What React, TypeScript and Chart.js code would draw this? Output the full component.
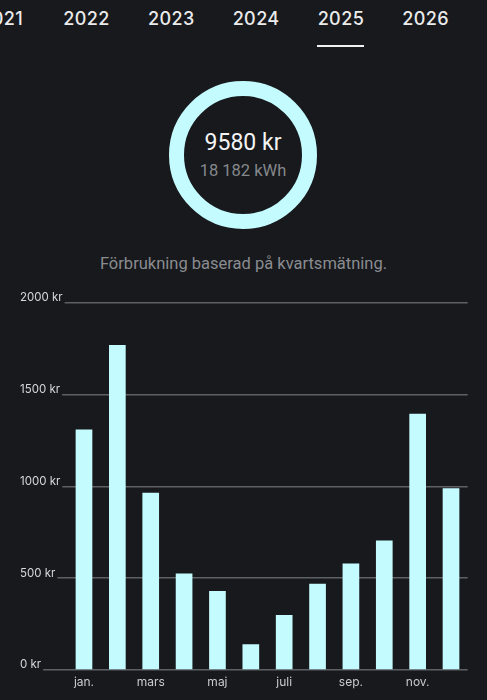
import React, { useEffect, useRef } from "react";
import { Chart, registerables } from "chart.js";

Chart.register(...registerables);

const years = ["2021", "2022", "2023", "2024", "2025", "2026"];
const selectedYear = "2025";
const totalCost = "9580 kr";
const totalEnergy = "18 182 kWh";
const subtitle = "Förbrukning baserad på kvartsmätning.";

const months = ["jan.", "feb.", "mars", "apr.", "maj", "juni", "juli", "aug.", "sep.", "okt.", "nov.", "dec."];
const costs = [1310, 1770, 965, 525, 430, 140, 300, 470, 580, 705, 1395, 990];
const yTicks = [0, 500, 1000, 1500, 2000];
const yUnit = "kr";

const BG = "#17191d";
const CYAN = "#c4fbfe";

export default function App() {
  const canvasRef = useRef<HTMLCanvasElement | null>(null);

  useEffect(() => {
    if (!canvasRef.current) return;
    const chart = new Chart(canvasRef.current, {
      type: "bar",
      data: {
        labels: months,
        datasets: [
          {
            data: costs,
            backgroundColor: CYAN,
            borderWidth: 0,
            barPercentage: 0.5,
            categoryPercentage: 1,
          },
        ],
      },
      options: {
        responsive: false,
        animation: false,
        devicePixelRatio: 1,
        layout: { padding: { left: 20, right: 19.3, top: 17.7, bottom: 0 } },
        plugins: { legend: { display: false }, tooltip: { enabled: false } },
        scales: {
          x: {
            grid: { display: false, drawTicks: false },
            border: { display: false },
            ticks: {
              color: "#c9cbce",
              font: { family: "Inter", size: 12 },
              padding: 5,
              autoSkip: false,
              maxRotation: 0,
              callback: (_v: any, i: number) => (i % 2 === 0 ? months[i] : ""),
            },
            afterFit: (s: any) => {
              s.height = 30;
            },
          },
          y: {
            min: 0,
            max: 2000,
            afterBuildTicks: (s: any) => {
              s.ticks = yTicks.map((v) => ({ value: v }));
            },
            grid: {
              color: "#5d6064",
              lineWidth: 1.5,
              drawTicks: true,
              tickLength: 47.3,
            },
            border: { display: false },
            ticks: {
              color: "#d6d7d9",
              font: { family: "Inter", size: 11.5 },
              crossAlign: "far",
              padding: 0,
              labelOffset: -5,
              showLabelBackdrop: true,
              backdropColor: BG,
              backdropPadding: { top: 0, bottom: 1, left: 0, right: 2 },
              callback: (v: any) => `${v} ${yUnit}`,
            },
            afterFit: (s: any) => {
              s.width = 47.3;
            },
          },
        },
      },
    } as any);
    return () => chart.destroy();
  }, []);

  return (
    <div style={{ position: "fixed", inset: 0, background: BG, overflow: "hidden" }}>
      {years.map((y, i) => (
        <div
          key={y}
          style={{
            position: "absolute",
            left: 1.7 + 84.8 * i - 40,
            width: 80,
            top: 7,
            height: 24,
            lineHeight: "24px",
            textAlign: "center",
            fontFamily: "Inter",
            fontWeight: 500,
            fontSize: 18,
            color: "#ebebeb",
            letterSpacing: 0.4,
          }}
        >
          {y}
        </div>
      ))}
      <div
        style={{
          position: "absolute",
          left: 1.7 + 84.8 * years.indexOf(selectedYear) - 23.5,
          width: 47,
          top: 45,
          height: 2,
          background: "#f2f2f2",
        }}
      />
      <div
        style={{
          position: "absolute",
          left: 169,
          top: 81,
          width: 148,
          height: 148,
          boxSizing: "border-box",
          borderRadius: "50%",
          border: `15px solid ${CYAN}`,
        }}
      />
      <div
        style={{
          position: "absolute",
          left: 143,
          width: 200,
          top: 143.3 - 15,
          height: 30,
          lineHeight: "30px",
          textAlign: "center",
          fontFamily: "Roboto",
          fontSize: 23,
          color: "#f4f4f4",
        }}
      >
        {totalCost}
      </div>
      <div
        style={{
          position: "absolute",
          left: 143,
          width: 200,
          top: 171 - 11,
          height: 22,
          lineHeight: "22px",
          textAlign: "center",
          fontFamily: "Roboto",
          fontSize: 16.5,
          color: "#85888c",
        }}
      >
        {totalEnergy}
      </div>
      <div
        style={{
          position: "absolute",
          left: 0,
          width: 487,
          top: 264 - 11,
          height: 22,
          lineHeight: "22px",
          textAlign: "center",
          fontFamily: "Roboto",
          fontSize: 16.5,
          color: "#8a8c90",
        }}
      >
        {subtitle}
      </div>
      <canvas
        ref={canvasRef}
        width={487}
        height={415}
        style={{ position: "absolute", left: 0, top: 285, width: 487, height: 415 }}
      />
    </div>
  );
}
